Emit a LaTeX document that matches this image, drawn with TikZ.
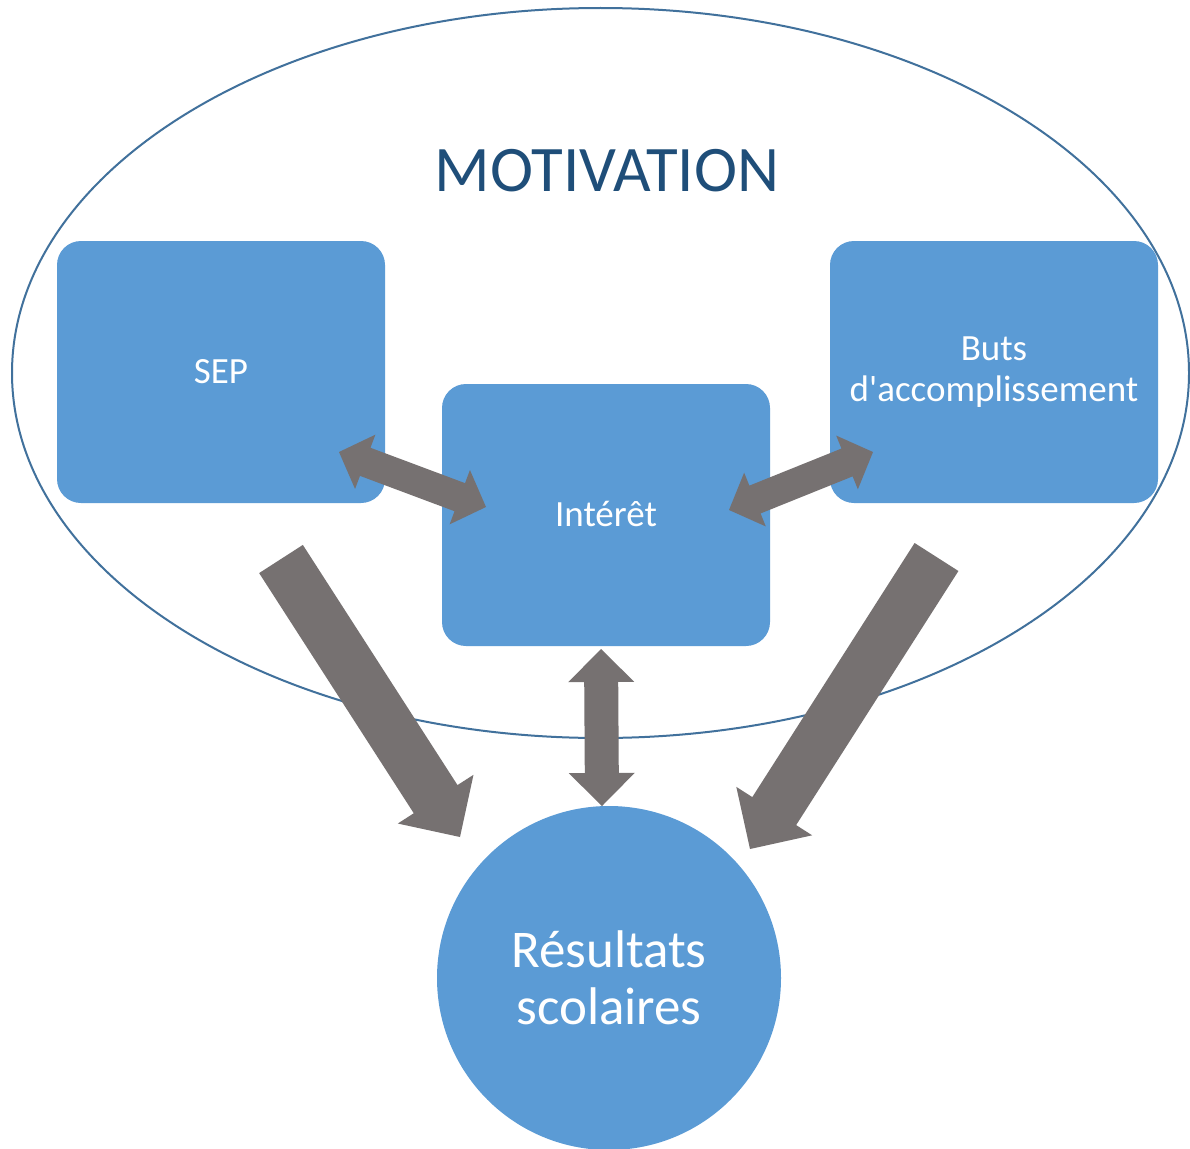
\documentclass[tikz,border=0pt]{standalone}
\usepackage{fontspec}
\setmainfont{Carlito}[Ligatures=TeXOff]
\usetikzlibrary{calc}
\definecolor{boxblue}{RGB}{91,155,213}
\definecolor{arrowgray}{RGB}{118,113,113}
\definecolor{ellblue}{RGB}{65,113,156}
\definecolor{titleblue}{RGB}{31,78,121}
\newcommand\singlearrow[5]{% tail, tip, shaft half width, head half width, head length
  \path ($(#2)!#5!(#1)$) coordinate (hbase);
  \fill[arrowgray] ($(#1)!#3!90:(#2)$) -- ($(hbase)!#3!90:(#2)$) -- ($(hbase)!#4!90:(#2)$) -- (#2)
    -- ($(hbase)!#4!-90:(#2)$) -- ($(hbase)!#3!-90:(#2)$) -- ($(#1)!#3!-90:(#2)$) -- cycle;
}
\newcommand\doublearrow[5]{% end1, end2, shaft half width, head half width, head length
  \path ($(#1)!#5!(#2)$) coordinate (hza) ($(#2)!#5!(#1)$) coordinate (hzb);
  \fill[arrowgray] (#1) -- ($(hza)!#4!90:(#2)$) -- ($(hza)!#3!90:(#2)$) -- ($(hzb)!#3!-90:(#1)$)
    -- ($(hzb)!#4!-90:(#1)$) -- (#2) -- ($(hzb)!#4!90:(#1)$) -- ($(hzb)!#3!90:(#1)$)
    -- ($(hza)!#3!-90:(#2)$) -- ($(hza)!#4!-90:(#2)$) -- cycle;
}
\begin{document}
\begin{tikzpicture}[x=1pt,y=-1pt,
  box/.style={fill=boxblue, draw=none, rounded corners=24pt, minimum width=328pt,
    minimum height=262pt, inner sep=0pt, text=white, align=center},
  onebox/.style={box, font=\fontsize{37}{44}\selectfont, text height=23.4pt, text depth=0pt},
  resnode/.style={circle, fill=boxblue, draw=none, minimum size=344pt, inner sep=0pt,
    text=white, align=center, font=\fontsize{53}{57}\selectfont},
  title/.style={text=titleblue, font=\fontsize{65}{72}\selectfont, inner sep=0pt, anchor=base}]
\useasboundingbox (0,0) rectangle (1190,1148);
\fill[white] (0,0) rectangle (1190,1148);
% enclosing ellipse
\draw[ellblue, line width=2pt] (600.5,373) ellipse [x radius=588.5pt, y radius=365pt];
% title
\node[title] (motiv) at (607,191) {MOTIVATION};
% boxes
\node[onebox] (sep) at (221,372) {SEP};
\node[onebox] (int) at (606,515) {Intérêt};
\node[box, font=\fontsize{37}{41}\selectfont] (buts) at (994,372) {Buts\\d'accomplissement};
\node[resnode] (res) at (609,978) {Résultats\\scolaires};
% arrow end points
\coordinate (sepTail) at (281,559);
\coordinate (sepTip) at (460,837);
\coordinate (butsTail) at (936.5,557);
\coordinate (butsTip) at (750,849);
\coordinate (sepInt1) at (339,452);
\coordinate (sepInt2) at (486,507);
\coordinate (intButs1) at (729,510);
\coordinate (intButs2) at (873,452);
\coordinate (intRes1) at (601,649);
\coordinate (intRes2) at (602,806);
% arrows
\singlearrow{sepTail}{sepTip}{26pt}{45pt}{45pt}
\singlearrow{butsTail}{butsTip}{26pt}{45pt}{45pt}
\doublearrow{sepInt1}{sepInt2}{15pt}{29pt}{28pt}
\doublearrow{intButs1}{intButs2}{15pt}{29pt}{28pt}
\doublearrow{intRes1}{intRes2}{17pt}{33pt}{33pt}
\end{tikzpicture}
\end{document}
